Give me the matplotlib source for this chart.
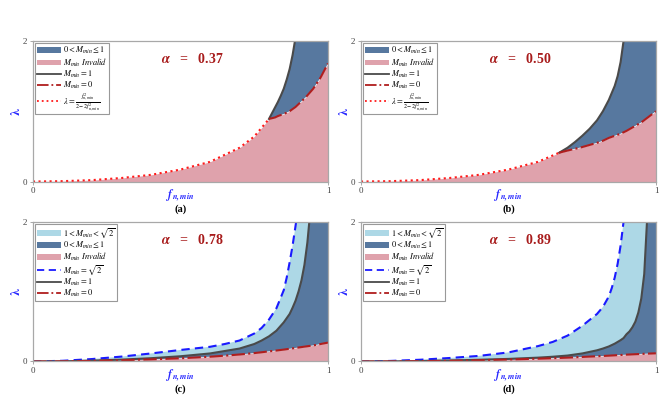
import numpy as np
import matplotlib.pyplot as plt
from matplotlib.patches import Patch
from matplotlib.lines import Line2D

plt.rcParams.update({
    "font.family": "serif",
    "font.serif": ["Liberation Serif", "DejaVu Serif"],
    "mathtext.fontset": "stix",
})

# colours
c_dark = "#57789F"
c_pink = "#DFA2AC"
c_light = "#ADD8E6"
c_m1 = "#4a4a4a"
c_m0 = "#B01E1E"
c_lam = "#FF1A1A"
c_sq2 = "#1A1AFF"

# ---- panel (a): alpha = 0.37 ----
alpha_a = 0.37
f_lam_a = [0, 0.1, 0.2, 0.3, 0.4, 0.5, 0.6, 0.7, 0.75, 0.8]
lam_a = [0, 0.005, 0.02, 0.05, 0.095, 0.17, 0.28, 0.48, 0.64, 0.89]
f_hi_a = [0.8, 0.81, 0.82, 0.83, 0.84, 0.85, 0.86, 0.87, 0.88, 0.89, 0.9, 0.925, 0.95, 0.975, 1.0]
m0_a = [0.89, 0.90, 0.91, 0.93, 0.945, 0.96, 0.98, 1.0, 1.03, 1.06, 1.10, 1.20, 1.32, 1.48, 1.68]
m1_a = [0.89, 0.97, 1.05, 1.13, 1.22, 1.32, 1.45, 1.60, 1.80, 2.05, 2.35, 3.0, 4.0, 5.5, 8.0]

# ---- panel (b): alpha = 0.50 ----
alpha_b = 0.50
f_lam_b = [0, 0.1, 0.2, 0.3, 0.4, 0.5, 0.6, 0.672]
lam_b = [0, 0.005, 0.02, 0.05, 0.095, 0.17, 0.28, 0.41]
f_hi_b = [0.672, 0.7, 0.725, 0.75, 0.775, 0.8, 0.82, 0.84, 0.86, 0.87, 0.88, 0.89, 0.9, 0.95, 1.0]
m0_b = [0.41, 0.44, 0.465, 0.49, 0.52, 0.55, 0.58, 0.62, 0.65, 0.665, 0.68, 0.70, 0.72, 0.84, 1.0]
m1_b = [0.41, 0.48, 0.56, 0.65, 0.75, 0.87, 1.0, 1.16, 1.36, 1.50, 1.70, 2.0, 2.4, 5.0, 10.0]

# ---- panel (c): alpha = 0.78 ----
alpha_c = 0.78
f_c = [0, 0.1, 0.2, 0.3, 0.4, 0.5, 0.6, 0.65, 0.7, 0.75, 0.775, 0.8, 0.825,
       0.85, 0.86, 0.87, 0.88, 0.89, 0.9, 0.91, 0.92, 0.93, 0.94, 0.95, 0.975, 1.0]
m0_c = [0, 0.002, 0.008, 0.018, 0.03, 0.046, 0.068, 0.083, 0.1, 0.12, 0.132, 0.145, 0.157,
        0.17, 0.176, 0.182, 0.188, 0.194, 0.2, 0.206, 0.212, 0.218, 0.224, 0.23, 0.25, 0.27]
m1_c = [0, 0.003, 0.012, 0.027, 0.047, 0.075, 0.115, 0.15, 0.185, 0.25, 0.30, 0.36, 0.44,
        0.56, 0.62, 0.68, 0.77, 0.87, 1.0, 1.16, 1.38, 1.7, 2.15, 2.8, 5.0, 9.0]
m2_c = [0, 0.01, 0.035, 0.07, 0.115, 0.165, 0.21, 0.25, 0.30, 0.40, 0.48, 0.60, 0.76,
        1.02, 1.2, 1.42, 1.66, 1.94, 2.25, 2.6, 3.0, 3.5, 4.1, 5.0, 8.0, 12.0]

# ---- panel (d): alpha = 0.89 ----
alpha_d = 0.89
f_d = [0, 0.1, 0.2, 0.3, 0.4, 0.5, 0.6, 0.65, 0.7, 0.75, 0.8, 0.82, 0.84, 0.85,
       0.86, 0.87, 0.88, 0.89, 0.9, 0.91, 0.92, 0.93, 0.94, 0.95, 0.96, 0.97, 0.98, 1.0]
m0_d = [0, 0.001, 0.004, 0.01, 0.018, 0.028, 0.04, 0.047, 0.055, 0.065, 0.075, 0.079, 0.083, 0.086,
        0.088, 0.091, 0.093, 0.095, 0.098, 0.1, 0.102, 0.104, 0.106, 0.108, 0.11, 0.112, 0.114, 0.117]
m1_d = [0, 0.002, 0.006, 0.014, 0.025, 0.037, 0.055, 0.068, 0.085, 0.115, 0.16, 0.185, 0.215, 0.235,
        0.255, 0.28, 0.305, 0.335, 0.39, 0.43, 0.49, 0.57, 0.70, 0.9, 1.25, 2.05, 3.2, 8.0]
m2_d = [0, 0.008, 0.025, 0.05, 0.08, 0.13, 0.22, 0.28, 0.37, 0.51, 0.68, 0.78, 0.93, 1.05,
        1.2, 1.4, 1.66, 2.0, 2.4, 2.9, 3.5, 4.2, 5.0, 6.0, 7.0, 8.5, 10.0, 14.0]

fig = plt.figure(figsize=(6.69, 4.03), dpi=100)
w, h = 0.441, 0.349
axa = fig.add_axes([0.0493, 0.5496, w, h])
axb = fig.add_axes([0.5396, 0.5496, w, h])
axc = fig.add_axes([0.0493, 0.1030, w, 0.347])
axd = fig.add_axes([0.5396, 0.1030, w, 0.347])


def style(ax, alpha, tag):
    ax.set_xlim(0, 1)
    ax.set_ylim(0, 2)
    ax.set_xticks([0, 1])
    ax.set_yticks([0, 2])
    ax.tick_params(labelsize=6.5, length=2, width=0.6, colors="#9a9a9a",
                   labelcolor="#444444", pad=2)
    for s in ax.spines.values():
        s.set_color("#a8a8a8")
        s.set_linewidth(0.9)
    ax.text(0.5, -0.10, r"$\mathbfit{f_{n,min}}$", transform=ax.transAxes,
            ha="center", va="center", color="#2828FF", fontsize=8.5)
    ax.text(0.5, -0.195, tag, transform=ax.transAxes, ha="center", va="center",
            fontsize=7.5, fontweight="bold")
    ax.text(-0.055, 0.5, r"$\boldsymbol{\lambda}$", transform=ax.transAxes,
            ha="center", va="center", color="#2828FF", fontsize=9.5, rotation=90)
    ax.text(0.54, 0.87, r"$\boldsymbol{\alpha}$   =   " + f"{alpha:.2f}",
            transform=ax.transAxes, ha="center", va="center",
            color="#A81C1C", fontsize=10, fontweight="bold")


def legend(ax, handles):
    lg = ax.legend(handles=handles, loc="upper left", fontsize=6,
                   fancybox=False, framealpha=1, edgecolor="#999999",
                   handlelength=2.8, handletextpad=0.25, borderpad=0.22,
                   labelspacing=0.0, borderaxespad=0.3)
    lg.get_frame().set_linewidth(0.8)


h_dark = Patch(facecolor=c_dark, label=r"$0 < M_{min} \leq 1$")
h_pink = Patch(facecolor=c_pink, label=r"$M_{min}\ Invalid$")
h_light = Patch(facecolor=c_light, label=r"$1 < M_{min} < \sqrt{2}$")
h_m1 = Line2D([], [], color=c_m1, lw=1.3, label=r"$M_{min} = 1$")
h_m0 = Line2D([], [], color=c_m0, lw=1.3, ls="-.", label=r"$M_{min} = 0$")
h_sq2 = Line2D([], [], color=c_sq2, lw=1.3, ls=(0, (4, 2.5)), label=r"$M_{min} = \sqrt{2}$")
h_lam = Line2D([], [], color=c_lam, lw=1.3, ls=":",
               label=r"$\lambda = \frac{f^2_{n,min}}{2-2f^2_{n,min}}$")

# (a) and (b)
for ax, a, fl, lam, fh, m0, m1, tag in [
        (axa, alpha_a, f_lam_a, lam_a, f_hi_a, m0_a, m1_a, "(a)"),
        (axb, alpha_b, f_lam_b, lam_b, f_hi_b, m0_b, m1_b, "(b)")]:
    f_low = fl[:-1] + fh
    y_low = lam[:-1] + m0
    ax.fill_between(f_low, 0, y_low, color=c_pink, lw=0)
    ax.fill_between(fh, m0, m1, color=c_dark, lw=0)
    ax.plot(fh, m1, color=c_m1, lw=1.5)
    ax.plot(fh, m0, color=c_m0, lw=1.5, ls="-.")
    ax.plot(fl, lam, color=c_lam, lw=1.5, ls=":")
    style(ax, a, tag)
    legend(ax, [h_dark, h_pink, h_m1, h_m0, h_lam])

# (c) and (d)
for ax, a, f, m0, m1, m2, tag in [
        (axc, alpha_c, f_c, m0_c, m1_c, m2_c, "(c)"),
        (axd, alpha_d, f_d, m0_d, m1_d, m2_d, "(d)")]:
    ax.fill_between(f, 0, m0, color=c_pink, lw=0)
    ax.fill_between(f, m0, m1, color=c_dark, lw=0)
    ax.fill_between(f, m1, m2, color=c_light, lw=0)
    ax.plot(f, m2, color=c_sq2, lw=1.5, ls=(0, (4, 2.5)))
    ax.plot(f, m1, color=c_m1, lw=1.5)
    ax.plot(f, m0, color=c_m0, lw=1.5, ls="-.")
    style(ax, a, tag)
    legend(ax, [h_light, h_dark, h_pink, h_sq2, h_m1, h_m0])

fig.savefig("out.png", dpi=100)
